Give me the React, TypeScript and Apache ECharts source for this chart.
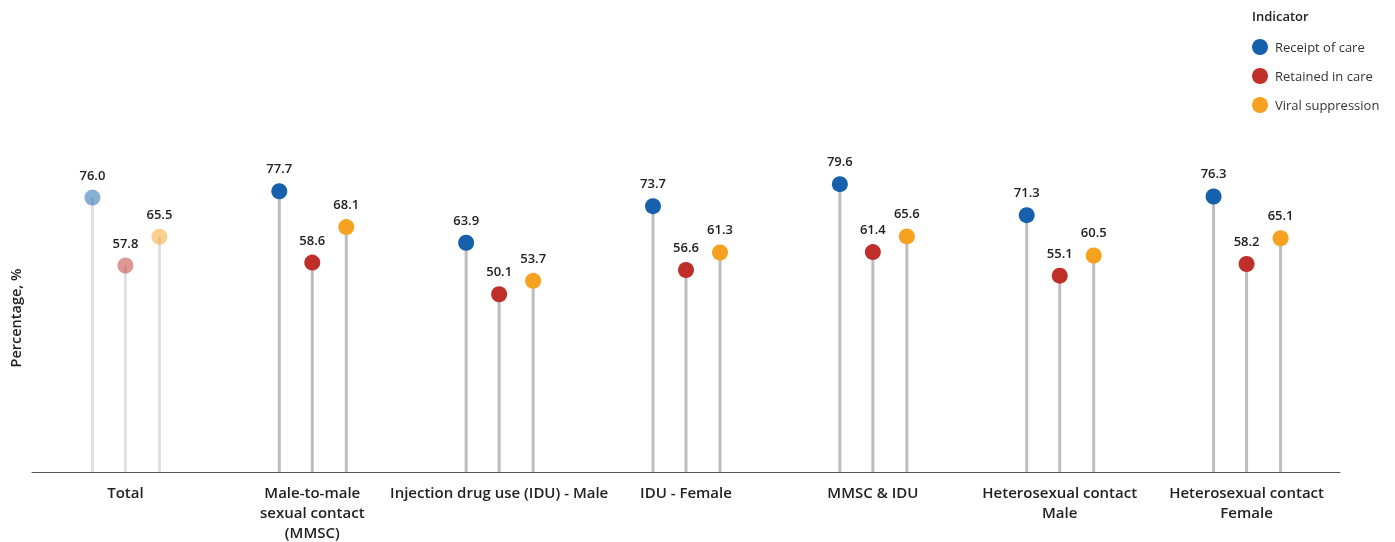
import React, { useEffect, useRef } from "react";
import * as echarts from "echarts";

const categories = [
  "Total",
  "Male-to-male\nsexual contact\n(MMSC)",
  "Injection drug use (IDU) - Male",
  "IDU - Female",
  "MMSC & IDU",
  "Heterosexual contact\nMale",
  "Heterosexual contact\nFemale",
];
const indicators = ["Receipt of care", "Retained in care", "Viral suppression"];
const receipt = [76.0, 77.7, 63.9, 73.7, 79.6, 71.3, 76.3];
const retained = [57.8, 58.6, 50.1, 56.6, 61.4, 55.1, 58.2];
const viral = [65.5, 68.1, 53.7, 61.3, 65.6, 60.5, 65.1];
const colors = ["#1660AC", "#BF2F2A", "#F6A11F"];
const seriesValues = [receipt, retained, viral];
const offsets = [-33, 0, 34];
const Y_MIN = 2.5;
const Y_MAX = 85;
const FONT = "'Open Sans', Lato, sans-serif";

export default function App() {
  const ref = useRef<HTMLDivElement>(null);
  useEffect(() => {
    if (!ref.current) return;
    const chart = echarts.init(ref.current, undefined, { renderer: "svg" });
    const series = seriesValues.map((vals, si) => ({
      name: indicators[si],
      type: "custom",
      clip: false,
      itemStyle: { color: colors[si] },
      data: vals.map((v, i) => [i, v]),
      renderItem: (params: any, api: any) => {
        const ci = api.value(0);
        const v = api.value(1);
        const top = api.coord([ci, v]);
        const base = api.coord([ci, Y_MIN]);
        const x = top[0] + offsets[si];
        const faded = ci === 0;
        return {
          type: "group",
          children: [
            {
              type: "line",
              shape: { x1: x, y1: base[1], x2: x, y2: top[1] },
              style: { stroke: faded ? "#e0e0e0" : "#bdbdbd", lineWidth: 3 },
            },
            {
              type: "circle",
              shape: { cx: x, cy: top[1], r: 8 },
              style: { fill: colors[si], opacity: faded ? 0.5 : 1 },
            },
            {
              type: "text",
              x: x,
              y: top[1] - 23,
              style: {
                text: v.toFixed(1),
                fill: "#222",
                font: `600 13px ${FONT}`,
                align: "center",
                verticalAlign: "middle",
              },
            },
          ],
        };
      },
    }));
    chart.setOption({
      animation: false,
      textStyle: { fontFamily: FONT },
      title: {
        text: "Indicator",
        left: 1247,
        top: 4,
        textStyle: { fontSize: 13, fontWeight: 600, color: "#222", fontFamily: FONT },
      },
      legend: {
        orient: "vertical",
        left: 1247,
        top: 34,
        icon: "circle",
        itemWidth: 16,
        itemHeight: 16,
        itemGap: 13,
        textStyle: { fontSize: 13, color: "#333", fontFamily: FONT, padding: [0, 0, 0, 2] },
        data: indicators,
      },
      grid: { left: 27, right: 55, top: 164, bottom: 67 },
      xAxis: {
        type: "category",
        data: categories,
        axisTick: { show: false },
        axisLine: { lineStyle: { color: "#555", width: 1 } },
        axisLabel: {
          interval: 0,
          fontSize: 15,
          fontWeight: 600,
          color: "#222",
          lineHeight: 20,
          margin: 10,
          fontFamily: FONT,
        },
      },
      yAxis: {
        type: "value",
        min: Y_MIN,
        max: Y_MAX,
        splitLine: { show: false },
        axisLabel: { show: false },
        axisTick: { show: false },
        axisLine: { show: false },
        name: "Percentage, %",
        nameLocation: "middle",
        nameGap: 9,
        nameTextStyle: { fontSize: 14.5, fontWeight: 600, color: "#222", fontFamily: FONT },
      },
      series,
    } as any);
    return () => chart.dispose();
  }, []);
  return (
    <div
      ref={ref}
      style={{ position: "fixed", left: 0, top: 0, width: 1395, height: 542 }}
    />
  );
}
